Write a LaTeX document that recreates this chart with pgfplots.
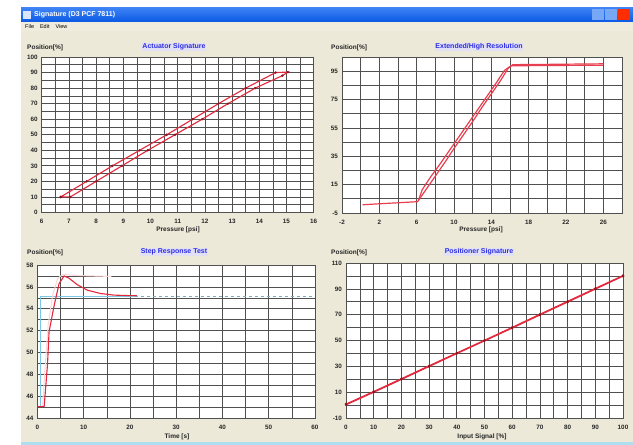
\documentclass[border=0pt]{standalone}
\usepackage{fontspec}
\setmainfont{Liberation Sans}
\usepackage{pgfplots}
\pgfplotsset{compat=1.18}
\definecolor{winbeige}{RGB}{236,233,216}
\definecolor{gridc}{RGB}{80,80,80}
\definecolor{curve}{RGB}{228,40,60}
\definecolor{curvedark}{RGB}{140,20,30}
\definecolor{titleblue}{RGB}{45,45,225}
\definecolor{titlebg}{RGB}{226,224,244}
\definecolor{xpblue}{RGB}{10,88,228}
\definecolor{xplight}{RGB}{60,130,245}
\definecolor{setp}{RGB}{120,200,230}
\pgfplotsset{
 sig/.style={
  scale only axis,
  anchor=south west,
  axis background/.style={fill=white},
  grid=both,
  major grid style={draw=gridc,line width=0.7pt},
  minor grid style={draw=gridc,line width=0.7pt},
  axis line style={draw=gridc,line width=0.8pt},
  major tick length=0pt, minor tick length=0pt,
  tick label style={font=\fontsize{6.3}{7}\selectfont\bfseries, text=black!85},
  /pgf/number format/assume math mode=true,
  xticklabel style={yshift=-3.5pt},
  yticklabel style={xshift=-0.5pt},
 },
 crv/.style={draw=curve, line width=1.1pt, mark=*, mark size=0.55pt,
   mark options={fill=curvedark,draw=curvedark}},
 crvn/.style={draw=curve!85!pink, line width=1.2pt},
}
\tikzset{ttl/.style={font=\fontsize{7}{8}\selectfont\bfseries, text=titleblue, fill=titlebg, inner sep=0.6pt},
 lbl/.style={font=\fontsize{6.5}{7}\selectfont\bfseries, text=black!85, inner sep=0pt}}
\begin{document}
\begin{tikzpicture}[x=1pt,y=1pt]
% window chrome
\fill[white] (0,0) rectangle (633,445);
\fill[winbeige] (21,0) rectangle (633,437);
\fill[winbeige!85!white] (21,414) rectangle (633,423);
\shade[top color=xplight, bottom color=xpblue] (21,423) rectangle (633,437);
\fill[white!80!xplight] (22.5,425.5) rectangle (31,434);
\node[anchor=west, text=white, font=\fontsize{7}{8}\selectfont\bfseries, inner sep=0pt] at (34,430) {Signature (D3 PCF 7811)};
\fill[xplight!70!white] (592,425) rectangle (603.5,435.5);
\fill[xplight!70!white] (605,425) rectangle (616.5,435.5);
\fill[red!65!orange] (618,425) rectangle (630,435.5);
\node[anchor=west, font=\fontsize{5.5}{6}\selectfont, inner sep=0pt] at (25,418) {File\hspace{6pt}Edit\hspace{6pt}View};
\fill[setp!60!white] (21,0) rectangle (633,3);

% Plot 1
\begin{axis}[sig, at={(41.7pt,232.5pt)}, width=272pt, height=155.5pt,
  xmin=6, xmax=16, ymin=0, ymax=100,
  xtick={6,...,16}, minor xtick={6.5,7.5,...,15.5},
  ytick={0,10,...,100}, minor ytick={5,15,...,95}]
\addplot[crv] coordinates {(6.7,10) (7.65,20) (8.6,30) (9.6,40) (10.6,50) (11.55,60) (12.5,70) (13.5,80) (14.6,90) (15.05,90.3) (14.85,88) (13.85,80) (12.85,70) (11.9,60) (10.9,50) (9.9,40) (8.95,30) (8.0,20) (7.05,10) (6.7,10)};
\end{axis}
\node[ttl] at (174,398) {Actuator Signature};
\node[lbl, anchor=west] at (27,397) {Position[\%]};
\node[lbl] at (178,215) {Pressure [psi]};

% Plot 2
\begin{axis}[sig, at={(342pt,232pt)}, width=280pt, height=156pt,
  xmin=-2, xmax=28, ymin=-5, ymax=105,
  xtick={-2,2,...,26}, minor xtick={0,4,...,28},
  ytick={-5,15,...,95}, minor ytick={5,25,...,105}]
\addplot[crvn] coordinates {(0.2,0.8) (2,1.5) (4,2.2) (6.1,3) (7,11.5) (8,21) (9,30.5) (10,40.5) (11,50) (12,59.5) (13,69.5) (14,79) (15,88.5) (15.8,97) (16.3,99.6) (20,99.8) (26,100.2)};
\addplot[crvn] coordinates {(26,99.2) (20,99) (16.1,98.8) (15.4,95.5) (14.5,86.5) (13.5,77) (12.5,67.5) (11.5,58) (10.5,48.5) (9.5,39) (8.5,29.5) (7.5,20.5) (6.6,11.5) (6.2,4)};
\end{axis}
\node[ttl] at (479,398) {Extended/High Resolution};
\node[lbl, anchor=west] at (331,397) {Position[\%]};
\node[lbl] at (481,215) {Pressure [psi]};

% Plot 3
\begin{axis}[sig, at={(37.5pt,26.7pt)}, width=277.5pt, height=153.3pt,
  xmin=0, xmax=60, ymin=44, ymax=58,
  xtick={0,10,...,60}, minor xtick={5,15,...,55},
  ytick={44,46,...,58}, minor ytick={45,47,...,57}]
\addplot[draw=setp, line width=0.8pt] coordinates {(0.6,45.05) (0.6,55.1) (21,55.1)};
\addplot[draw=setp!60!gray, line width=0.8pt, dashed] coordinates {(21,55.15) (60,55.15)};
\addplot[draw=curve!18, line width=1pt] coordinates {(1.1,45.1) (1.7,49) (2.3,52.5) (3.3,55.3) (4.4,56.8) (5.5,57.15) (8,57.05) (12,57.0) (16,56.95)};
\addplot[draw=curve, line width=1.1pt] coordinates {(0,45.07) (1.44,45.07) (2.16,48.9) (2.5,51.9) (3.6,54.3) (4.67,56.3) (5.75,57.0) (6.8,56.8) (8.6,56.2) (10.8,55.7) (13.6,55.4) (16.5,55.25) (20.1,55.2) (21.5,55.2)};
\end{axis}
\node[ttl] at (174,193) {Step Response Test};
\node[lbl, anchor=west] at (27,192) {Position[\%]};
\node[lbl] at (177,8) {Time [s]};

% Plot 4
\begin{axis}[sig, at={(346pt,26.7pt)}, width=277pt, height=155.3pt,
  xmin=0, xmax=100, ymin=-10, ymax=110,
  xtick={0,10,...,100}, minor xtick={5,15,...,95},
  ytick={-10,10,...,110}, minor ytick={0,20,...,100}]
\addplot[crv] coordinates {(0,0.4) (10,10.1) (20,20) (30,30) (40,40) (50,49.8) (60,59.7) (70,69.8) (80,79.8) (90,89.8) (100,99.8)};
\addplot[crv] coordinates {(100,100.3) (90,90.4) (80,80.4) (70,70.4) (60,60.3) (50,50.3) (40,40.5) (30,30.6) (20,20.6) (10,10.7) (0,1)};
\end{axis}
\node[ttl] at (479,193) {Positioner Signature};
\node[lbl, anchor=west] at (331,192) {Position[\%]};
\node[lbl] at (482,8) {Input Signal [\%]};
\end{tikzpicture}
\end{document}
